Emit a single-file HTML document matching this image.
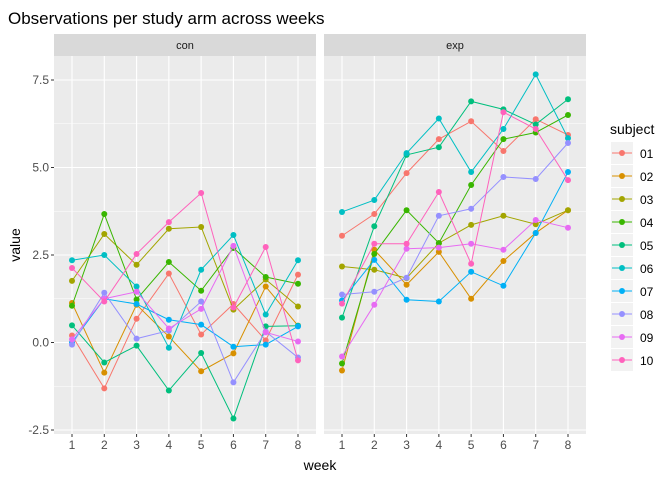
<!DOCTYPE html>
<html><head><meta charset="utf-8"><style>
body{margin:0;background:#fff;font-family:"Liberation Sans",sans-serif}
</style></head><body>
<svg id="c" width="672" height="480" xmlns="http://www.w3.org/2000/svg" font-family="Liberation Sans, sans-serif"></svg>
<script>
const weeks=[1,2,3,4,5,6,7,8];
const subjects=["01","02","03","04","05","06","07","08","09","10"];
const colors=["#F8766D","#D89000","#A3A500","#39B600","#00BF7D","#00BFC4","#00B0F6","#9590FF","#E76BF3","#FF62BC"];
const yTicks=[-2.5,0,2.5,5,7.5];
const yTickLabels=["-2.5","0.0","2.5","5.0","7.5"];
const arms=["con","exp"];
const con01=[0.2,-1.31,0.68,1.97,0.23,1.1,0.06,1.94];
const con02=[1.13,-0.86,1.08,0.17,-0.82,-0.31,1.6,0.48];
const con03=[1.76,3.1,2.22,3.25,3.3,0.94,1.8,1.03];
const con04=[1.05,3.67,1.23,2.3,1.48,2.7,1.87,1.68];
const con05=[0.49,-0.57,-0.09,-1.37,-0.3,-2.17,0.46,0.48];
const con06=[2.35,2.5,1.6,-0.15,2.08,3.07,0.8,2.35];
const con07=[0.0,1.25,1.1,0.65,0.51,-0.12,-0.06,0.46];
const con08=[-0.06,1.42,0.11,0.34,1.17,-1.14,0.31,-0.43];
const con09=[0.09,1.25,1.45,0.4,0.96,2.76,0.29,0.03];
const con10=[2.13,1.17,2.53,3.44,4.27,1.0,2.73,-0.51];
const exp01=[3.05,3.67,4.84,5.81,6.32,5.47,6.38,5.93];
const exp02=[-0.8,2.65,1.65,2.59,1.25,2.33,3.13,3.78];
const exp03=[2.17,2.08,1.84,2.84,3.36,3.62,3.38,3.78];
const exp04=[-0.6,2.53,3.78,2.84,4.5,5.81,6.0,6.5];
const exp05=[0.71,3.32,5.36,5.58,6.89,6.66,6.23,6.95];
const exp06=[3.73,4.07,5.41,6.4,4.87,6.1,7.66,5.84];
const exp07=[1.2,2.36,1.22,1.17,2.02,1.62,3.13,4.87];
const exp08=[1.37,1.45,1.85,3.62,3.82,4.73,4.67,5.7];
const exp09=[-0.4,1.08,2.68,2.71,2.82,2.65,3.5,3.28];
const exp10=[1.11,2.82,2.82,4.3,2.25,6.58,6.1,4.64];
const conData=[con01,con02,con03,con04,con05,con06,con07,con08,con09,con10];
const expData=[exp01,exp02,exp03,exp04,exp05,exp06,exp07,exp08,exp09,exp10];

const svg=document.getElementById('c');
const NS="http://www.w3.org/2000/svg";
function el(t,a,p){const e=document.createElementNS(NS,t);for(const k in a)e.setAttribute(k,a[k]);(p||svg).appendChild(e);return e;}
const PT=56,PB=434;
function yS(v){return 342.5-v*35;}
const panels=[{x0:54,x1:316,data:conData},{x0:324,x1:586,data:expData}];

let t=el('text',{x:8,y:24,'font-size':17,fill:'#000'});t.textContent="Observations per study arm across weeks";



panels.forEach((p,pi)=>{
  const xS=w=>p.x0+18+(w-1)*(p.x1-p.x0-36)/7;
  const g=el('g',{});
  
  
  const strip=el('rect',{x:p.x0,y:34,width:p.x1-p.x0,height:22,fill:'#D9D9D9'},g);
  
  
  const st=el('text',{x:(p.x0+p.x1)/2,y:49,'font-size':11,fill:'#1A1A1A','text-anchor':'middle'},g);st.textContent=arms[pi];
  
  
  el('rect',{x:p.x0,y:PT,width:p.x1-p.x0,height:PB-PT,fill:'#EBEBEB'},g);
  for(let i=0;i<yTicks.length-1;i++){const m=(yTicks[i]+yTicks[i+1])/2;el('line',{x1:p.x0,x2:p.x1,y1:yS(m),y2:yS(m),stroke:'#fff','stroke-width':0.5},g);}
  yTicks.forEach(v=>el('line',{x1:p.x0,x2:p.x1,y1:yS(v),y2:yS(v),stroke:'#fff','stroke-width':1.1},g));
  weeks.forEach(w=>{
    el('line',{x1:xS(w),x2:xS(w),y1:PT,y2:PB,stroke:'#fff','stroke-width':1.1},g);
    el('line',{x1:xS(w),x2:xS(w),y1:PB,y2:PB+3,stroke:'#333','stroke-width':1},g);
    const tl=el('text',{x:xS(w),y:PB+15,'font-size':12,fill:'#4D4D4D','text-anchor':'middle'},g);tl.textContent=w;
    
    
  });
  p.data.forEach((s,si)=>{
    const pts=s.map((v,i)=>xS(weeks[i])+','+yS(v)).join(' ');
    const pl=el('polyline',{points:pts,fill:'none',stroke:colors[si],'stroke-width':1},g);
    
    
    s.forEach((v,i)=>{
      const c=el('circle',{cx:xS(weeks[i]),cy:yS(v),r:3,fill:colors[si]},g);
      
      
    });
  });
});
yTicks.forEach((v,i)=>{
  el('line',{x1:51,x2:54,y1:yS(v),y2:yS(v),stroke:'#333'});
  const tl=el('text',{x:49,y:yS(v)+4,'font-size':12,fill:'#4D4D4D','text-anchor':'end'});tl.textContent=yTickLabels[i];
  
  
});
let xt=el('text',{x:320,y:470,'font-size':14,fill:'#000','text-anchor':'middle'});xt.textContent="week";


let yt=el('text',{x:0,y:0,'font-size':14,fill:'#000','text-anchor':'middle',transform:'translate(20,245) rotate(-90)'});yt.textContent="value";


let lt=el('text',{x:610,y:134,'font-size':14,fill:'#000'});lt.textContent="subject";


subjects.forEach((s,i)=>{
  const y=142+i*23;
  const g=el('g',{});
  
  
  el('rect',{x:611,y:y,width:22,height:22,fill:'#F2F2F2'},g);
  el('line',{x1:612,x2:632,y1:y+11,y2:y+11,stroke:colors[i],'stroke-width':1},g);
  el('circle',{cx:622,cy:y+11,r:3,fill:colors[i]},g);
  const tx=el('text',{x:640,y:y+16,'font-size':12,fill:'#000'},g);tx.textContent=s;
});
</script>
</body></html>
